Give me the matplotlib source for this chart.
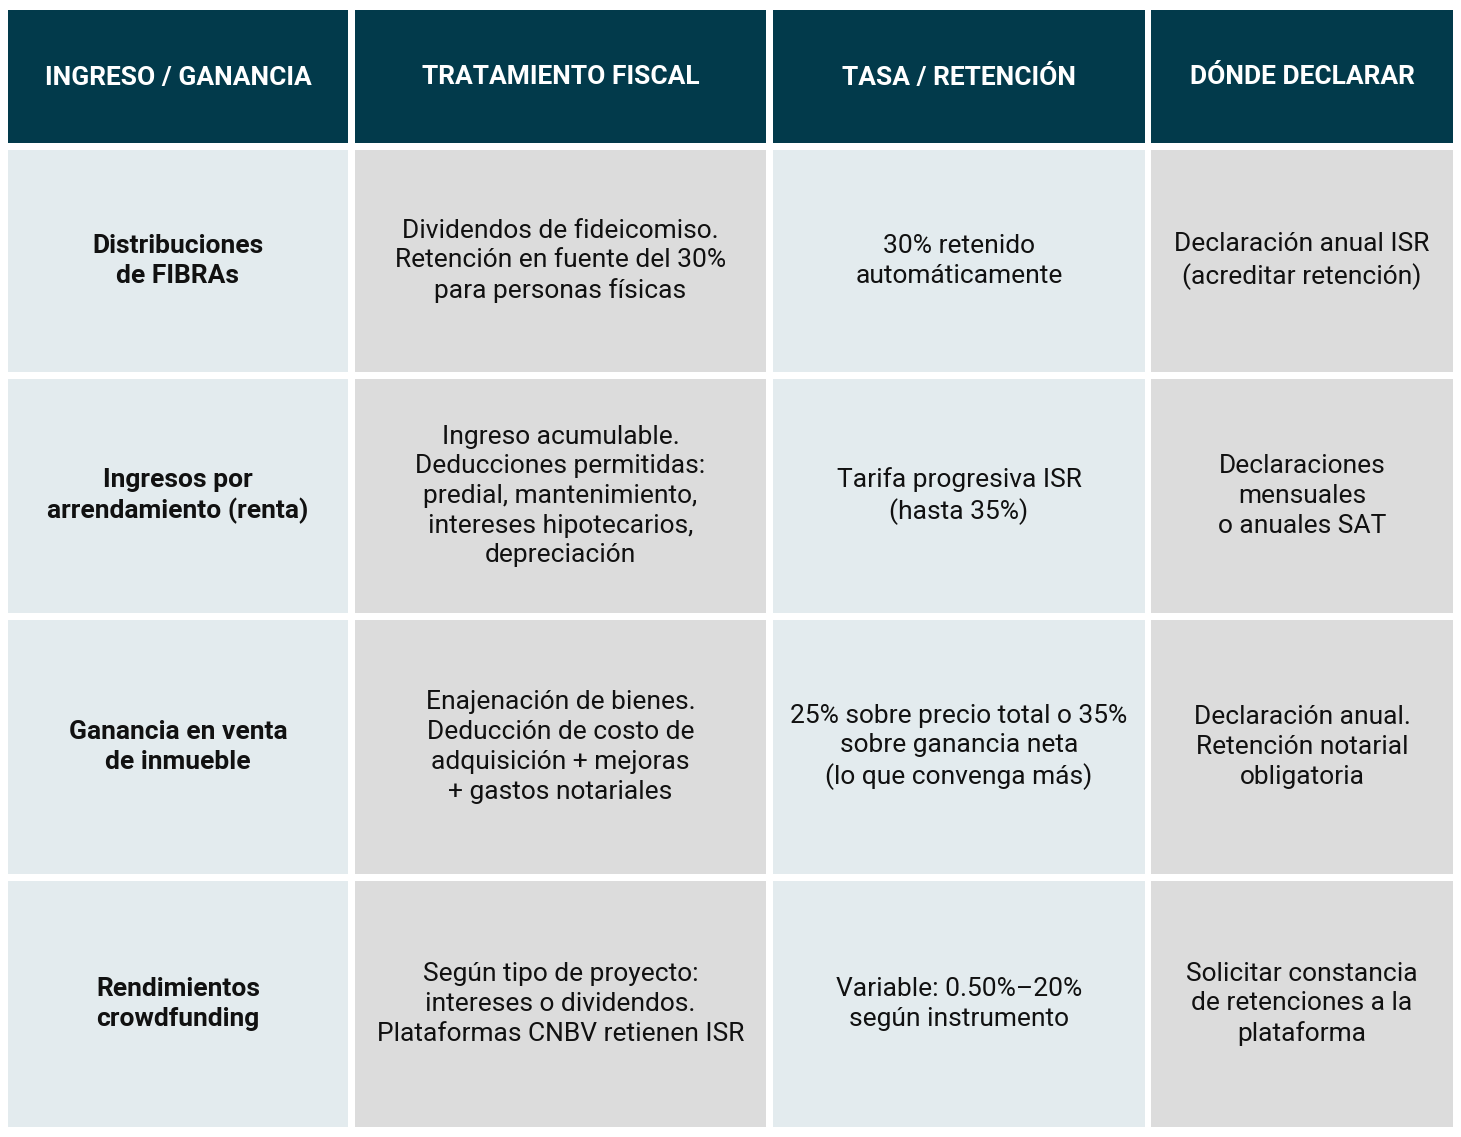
import matplotlib
matplotlib.use("Agg")
import matplotlib.pyplot as plt
from matplotlib.patches import Rectangle

headers = ["INGRESO / GANANCIA", "TRATAMIENTO FISCAL", "TASA / RETENCIÓN", "DÓNDE DECLARAR"]
income = ["Distribuciones\nde FIBRAs", "Ingresos por\narrendamiento (renta)",
          "Ganancia en venta\nde inmueble", "Rendimientos\ncrowdfunding"]
treatment = ["Dividendos de fideicomiso.\nRetención en fuente del 30%\npara personas físicas",
             "Ingreso acumulable.\nDeducciones permitidas:\npredial, mantenimiento,\nintereses hipotecarios,\ndepreciación",
             "Enajenación de bienes.\nDeducción de costo de\nadquisición + mejoras\n+ gastos notariales",
             "Según tipo de proyecto:\nintereses o dividendos.\nPlataformas CNBV retienen ISR"]
rate = ["30% retenido\nautomáticamente", "Tarifa progresiva ISR\n(hasta 35%)",
        "25% sobre precio total o 35%\nsobre ganancia neta\n(lo que convenga más)",
        "Variable: 0.50%–20%\nsegún instrumento"]
where = ["Declaración anual ISR\n(acreditar retención)", "Declaraciones\nmensuales\no anuales SAT",
         "Declaración anual.\nRetención notarial\nobligatoria",
         "Solicitar constancia\nde retenciones a la\nplataforma"]

W, H = 1461, 1137
fig = plt.figure(figsize=(W/100, H/100), dpi=100)
ax = fig.add_axes([0, 0, 1, 1])
ax.set_xlim(0, W); ax.set_ylim(H, 0); ax.axis("off")

cols = [(8, 348), (355, 766), (773, 1145), (1151, 1453)]
rows = [(150, 372), (379, 613), (620, 874), (881, 1127)]
hdr = (10, 143)
HEAD = "#023a4b"; LIGHT = "#e3ebee"; GRAY = "#dcdcdc"
font = "Roboto"

for (x0, x1), h in zip(cols, headers):
    ax.add_patch(Rectangle((x0, hdr[0]), x1-x0, hdr[1]-hdr[0], color=HEAD, lw=0))
    ax.text((x0+x1)/2, (hdr[0]+hdr[1])/2+1, h, ha="center", va="center", color="white",
            fontsize=19, fontweight="bold", family=font)

data = list(zip(income, treatment, rate, where))
for (y0, y1), rowvals in zip(rows, data):
    for ci, ((x0, x1), txt) in enumerate(zip(cols, rowvals)):
        ax.add_patch(Rectangle((x0, y0), x1-x0, y1-y0, color=LIGHT if ci % 2 == 0 else GRAY, lw=0))
        ax.text((x0+x1)/2, (y0+y1)/2, txt, ha="center", va="center", color="#111111",
                fontsize=19, fontweight="bold" if ci == 0 else "normal", family=font,
                linespacing=1.3, multialignment="center")

fig.savefig("out.png", dpi=100, facecolor="white")
